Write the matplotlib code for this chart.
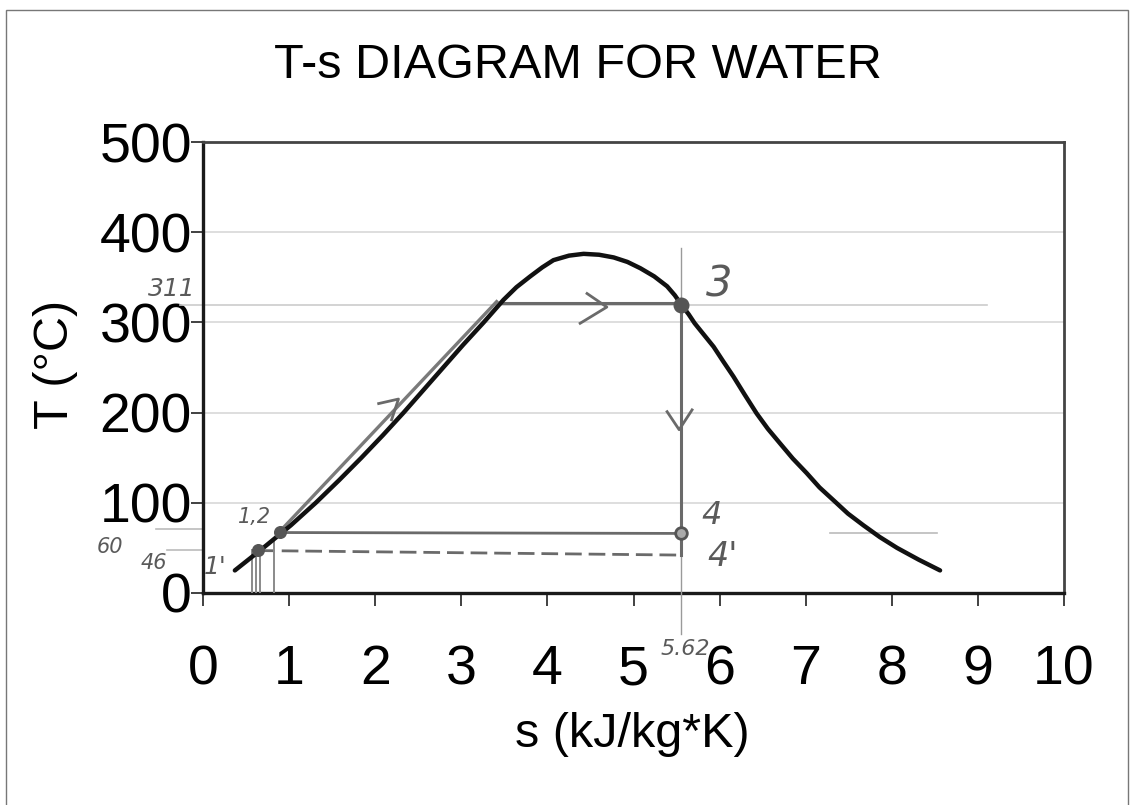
import numpy as np
import matplotlib.pyplot as plt
from matplotlib.patches import Rectangle

# saturation dome (s in kJ/kg*K, T in deg C)
dome_s = [0.37, 0.70, 1.02, 1.31, 1.58, 1.84, 2.09, 2.33, 2.56, 2.79, 3.02, 3.26,
          3.49, 3.64, 3.80, 3.94, 4.07, 4.25, 4.42, 4.60, 4.77, 4.93, 5.08, 5.24,
          5.39, 5.48, 5.56, 5.64, 5.71, 5.82, 5.93, 6.04, 6.16, 6.29, 6.43, 6.56,
          6.70, 6.85, 7.01, 7.16, 7.32, 7.49, 7.67, 7.86, 8.06, 8.31, 8.56]
dome_T = [25, 50, 75, 100, 125, 150, 175, 200, 225, 250, 275, 300,
          325, 339, 351, 361, 369, 374, 376, 375, 372, 367, 360, 351,
          340, 330, 319, 309, 299, 286, 273, 257, 240, 220, 199, 182,
          166, 149, 133, 117, 103, 88, 75, 62, 50, 37, 25]

# cycle states as pencilled on the chart
s_1p, T_1p = 0.64, 48      # 1'
s_12, T_12 = 0.89, 68      # 1,2
s_2s, T_2s = 3.45, 321     # end of heating on liquid line
s_3, T_3 = 5.55, 319       # 3
s_4, T_4 = 5.55, 66        # 4
s_4p, T_4p = 5.55, 42      # 4'

x_ticks = list(range(0, 11))
y_ticks = [0, 100, 200, 300, 400, 500]

pencil = '#6a6a6a'
hand = dict(color='#5a5a5a', fontstyle='italic', fontweight='light',
            family='DejaVu Sans', clip_on=False, ha='center', va='center')

plt.rcParams['font.family'] = ['Liberation Sans', 'DejaVu Sans']

fig = plt.figure(figsize=(11.31, 8.05), dpi=100)
ax = fig.add_axes([0.1795, 0.2634, 0.7613, 0.5602])

ax.set_xlim(0, 10)
ax.set_ylim(0, 500)
ax.set_xticks(x_ticks)
ax.set_yticks(y_ticks)
ax.tick_params(axis='both', labelsize=40, length=9, width=1.3, colors='#333333',
               labelcolor='black')
ax.tick_params(axis='x', pad=28)
ax.tick_params(axis='y', pad=-1)
ax.yaxis.grid(True, color='#d8d8d8', lw=1.2)
ax.set_axisbelow(True)
for side in ['left', 'bottom']:
    ax.spines[side].set_linewidth(2.4)
    ax.spines[side].set_color('#1a1a1a')
for side in ['top', 'right']:
    ax.spines[side].set_linewidth(2.0)
    ax.spines[side].set_color('#444444')

# faint pencil guide lines
ax.plot([-0.27, 9.1], [T_3, T_3], color='#cccccc', lw=1.2, clip_on=False, zorder=1)
ax.plot([-0.55, 0.0], [T_12 + 3, T_12 + 3], color='#bbbbbb', lw=1.2, clip_on=False)
ax.plot([-0.42, 0.0], [T_1p, T_1p], color='#bbbbbb', lw=1.2, clip_on=False)
ax.plot([7.28, 8.52], [T_4, T_4], color='#bbbbbb', lw=1.2)

# dome
ax.plot(dome_s, dome_T, color='#111111', lw=3.2, solid_capstyle='round',
        solid_joinstyle='round', zorder=4)

# process lines
ax.plot([s_12, s_2s - 0.04], [T_12, T_2s + 2], color='#7a7a7a', lw=2.4, zorder=3)
ax.plot([s_2s, s_3], [T_2s, T_2s], color=pencil, lw=2.2, zorder=3)
ax.plot([s_3, s_3], [382, -45], color='#9a9a9a', lw=1.0, clip_on=False, zorder=3)
ax.plot([s_3, s_3], [T_3, T_4p], color=pencil, lw=2.2, zorder=3)
ax.plot([s_12, s_4], [T_4 + 1, T_4], color=pencil, lw=2.0, zorder=3)
ax.plot([s_1p, s_4p], [T_1p - 1, T_4p], color=pencil, lw=2.0, ls=(0, (6, 2.5)), zorder=3)

# drops to the s axis
for sx, top in [(0.57, T_1p), (0.62, T_1p), (0.66, T_1p), (0.82, T_12 - 8)]:
    ax.plot([sx, sx], [top, 0], color='#8a8a8a', lw=1.4, zorder=3)

# arrow chevrons
ax.plot([4.46, 4.69, 4.38], [332, 317, 299], color=pencil, lw=2.0, zorder=3)
ax.plot([5.39, 5.53, 5.68], [201, 181, 203], color=pencil, lw=2.0, zorder=3)
ax.plot([2.04, 2.27, 2.19], [210, 215, 192], color=pencil, lw=2.0, zorder=3)

# state dots
ax.scatter([s_3], [T_3], s=110, color='#555555', zorder=5)
ax.scatter([s_12, s_1p], [T_12, T_1p], s=70, color='#555555', zorder=5)
ax.scatter([s_4], [T_4], s=70, facecolor='#aaaaaa', edgecolor='#555555', lw=2, zorder=5)

# handwritten labels
ax.text(-0.36, 337, '311', fontsize=18, **hand)
ax.text(-1.08, 51, '60', fontsize=15, **hand)
ax.text(-0.57, 33, '46', fontsize=15, **hand)
ax.text(0.14, 29, "1'", fontsize=18, **hand)
ax.text(0.60, 84, '1,2', fontsize=15, **hand)
ax.text(6.00, 342, '3', fontsize=30, **hand)
ax.text(5.91, 86, '4', fontsize=23, **hand)
ax.text(6.03, 40, "4'", fontsize=24, **hand)
ax.text(5.60, -62, '5.62', fontsize=16, **hand)

# titles
fig.text(0.511, 0.919, 'T-s DIAGRAM FOR WATER', fontsize=35, ha='center', va='center')
fig.text(0.559, 0.087, 's (kJ/kg*K)', fontsize=35, ha='center', va='center')
fig.text(0.049, 0.547, 'T (°C)', fontsize=35, ha='center', va='center', rotation=90)

# scanned page border
fig.patches.append(Rectangle((0.005, -0.01), 0.992, 0.998, transform=fig.transFigure,
                             fill=False, edgecolor='#777777', lw=1.0))

fig.savefig('out.png', dpi=100)
